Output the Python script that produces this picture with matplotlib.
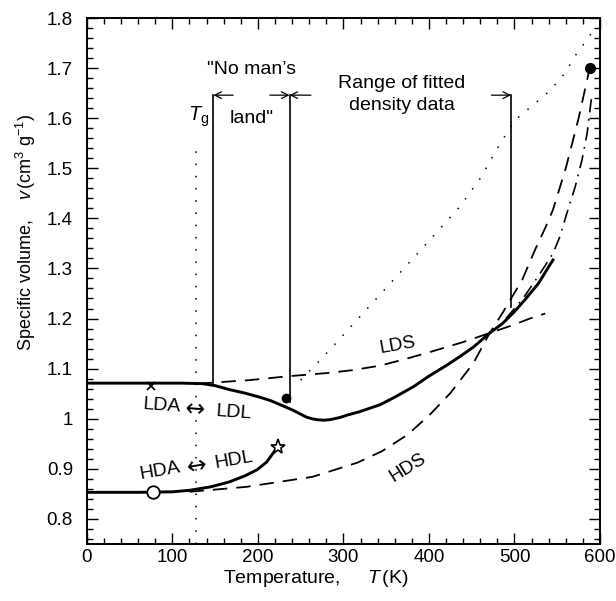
import matplotlib
matplotlib.use("Agg")
import matplotlib.pyplot as plt
from matplotlib.ticker import MultipleLocator, FormatStrFormatter

plt.rcParams['font.family'] = ['Liberation Sans', 'DejaVu Sans']
plt.rcParams['mathtext.fontset'] = 'custom'
plt.rcParams['mathtext.rm'] = 'Liberation Sans'
plt.rcParams['mathtext.it'] = 'Liberation Sans:italic'

# liquid / amorphous branches (solid)
liquid_T = [0, 60, 110, 135, 150, 167, 185, 202, 215, 226, 241, 250, 257, 263, 269, 277, 284,
            295, 304, 319, 343, 360, 382, 400, 421, 437, 452, 471, 486, 499, 512, 528, 545]
liquid_v = [1.071, 1.071, 1.071, 1.070, 1.066, 1.058, 1.051, 1.043, 1.036, 1.028, 1.017, 1.009,
            1.003, 1.000, 0.998, 0.997, 0.998, 1.002, 1.007, 1.014, 1.028, 1.043, 1.064, 1.085,
            1.107, 1.125, 1.143, 1.171, 1.190, 1.212, 1.237, 1.270, 1.317]
hda_T = [0, 60, 100, 120, 145, 167, 185, 199, 210, 216, 223]
hda_v = [0.853, 0.853, 0.854, 0.857, 0.864, 0.874, 0.886, 0.898, 0.913, 0.927, 0.944]

# spinodals (dashed)
lds_T = [130, 190, 237, 280, 311, 343, 370, 401, 440, 471, 500, 518, 536]
lds_v = [1.070, 1.077, 1.085, 1.091, 1.097, 1.106, 1.118, 1.133, 1.153, 1.171, 1.188, 1.200, 1.210]
hds_T = [120, 187, 264, 316, 345, 375, 401, 425, 452, 471, 486, 509, 524, 536, 545, 560, 575, 588]
hds_v = [0.854, 0.864, 0.884, 0.912, 0.935, 0.968, 1.008, 1.051, 1.111, 1.171, 1.211, 1.277,
         1.337, 1.381, 1.417, 1.500, 1.600, 1.700]

# extrapolated liquid (dash-dot) and dotted curve
extrap_T = [490, 510, 530, 545, 553, 563, 571, 579, 585, 590]
extrap_v = [1.200, 1.240, 1.290, 1.330, 1.363, 1.420, 1.463, 1.517, 1.570, 1.640]
dotted_T = [250, 270, 288, 320, 360, 400, 436, 460, 480, 500, 520, 541, 559, 573, 582, 594]
dotted_v = [1.077, 1.112, 1.145, 1.205, 1.280, 1.355, 1.423, 1.480, 1.540, 1.595, 1.624,
            1.654, 1.690, 1.730, 1.750, 1.780]

T_g = 128
bounds_T = [148, 237, 496]
bounds_v = [1.070, 1.034, 1.223]
arrow_v = 1.646

fig = plt.figure(figsize=(6.16, 6.01), dpi=100)
ax = fig.add_axes([0.141, 0.095, 0.833, 0.875])

ax.plot(liquid_T, liquid_v, color='black', lw=2.1)
ax.plot(hda_T, hda_v, color='black', lw=2.1)
ax.plot(lds_T, lds_v, color='black', lw=1.3, ls=(0, (8, 5)))
ax.plot(hds_T, hds_v, color='black', lw=1.3, ls=(0, (8, 5)))
ax.plot(extrap_T, extrap_v, color='black', lw=1.2, ls=(0, (8, 4, 1, 4)))
ax.plot(dotted_T, dotted_v, color='black', lw=1.1, ls=(0, (1, 7)))

# Tg and boundaries
ax.plot([T_g, T_g], [0.75, 1.54], color='black', lw=1.1, ls=(0, (1, 7)))
for t, v0 in zip(bounds_T, bounds_v):
    ax.plot([t, t], [v0, arrow_v], color='black', lw=1.2)

arrow_kw = dict(arrowstyle='->', color='black', lw=0.9, shrinkA=0, shrinkB=0,
                mutation_scale=12)
ax.annotate('', xy=(148, arrow_v), xytext=(171, arrow_v), arrowprops=arrow_kw)
ax.annotate('', xy=(237, arrow_v), xytext=(214, arrow_v), arrowprops=arrow_kw)
ax.annotate('', xy=(237, arrow_v), xytext=(262, arrow_v), arrowprops=arrow_kw)
ax.annotate('', xy=(496, arrow_v), xytext=(473, arrow_v), arrowprops=arrow_kw)

# markers
ax.plot([75], [1.066], marker='x', color='black', ms=6, mew=1.3)
ax.plot([77], [0.853], marker='o', mfc='white', mec='black', ms=9, mew=1.3)
ax.plot([223], [0.944], marker='*', mfc='white', mec='black', ms=11, mew=1.2)
ax.plot([233], [1.041], marker='o', color='black', ms=6)
ax.plot([588], [1.700], marker='o', color='black', ms=7)

# labels
ax.text(131, 1.603, r'$T_{\rm g}$', fontsize=14.5, ha='center', va='center')
ax.text(193, 1.697, '"No man\u2019s', fontsize=14, ha='center', va='center')
ax.text(193, 1.600, 'land"', fontsize=14, ha='center', va='center')
ax.text(368, 1.670, 'Range of fitted', fontsize=14, ha='center', va='center')
ax.text(369, 1.626, 'density data', fontsize=14, ha='center', va='center')

ax.text(87, 1.025, 'LDA', fontsize=14, ha='center', va='center', rotation=-4)
ax.text(126, 1.019, '\u2194', family='DejaVu Sans', fontsize=17, ha='center', va='center',
        rotation=-4)
ax.text(171, 1.012, 'LDL', fontsize=14, ha='center', va='center', rotation=-4)
ax.text(85, 0.895, 'HDA', fontsize=14, ha='center', va='center', rotation=10)
ax.text(129, 0.906, '\u2194', family='DejaVu Sans', fontsize=17, ha='center', va='center',
        rotation=10)
ax.text(172, 0.918, 'HDL', fontsize=14, ha='center', va='center', rotation=10)

ax.text(363, 1.147, 'LDS', fontsize=13.5, ha='center', va='center', rotation=10)
ax.text(375, 0.903, 'HDS', fontsize=13.5, ha='center', va='center', rotation=32)

ax.set_xlim(0, 600)
ax.set_ylim(0.75, 1.8)
ax.xaxis.set_major_locator(MultipleLocator(100))
ax.xaxis.set_minor_locator(MultipleLocator(20))
ax.yaxis.set_major_locator(MultipleLocator(0.1))
ax.yaxis.set_minor_locator(MultipleLocator(0.02))
ax.yaxis.set_major_formatter(FormatStrFormatter('%g'))
ax.tick_params(which='both', direction='in', top=True, right=True, width=1.0, labelsize=13.5)
ax.tick_params(which='major', length=8)
ax.tick_params(which='minor', length=4)
ax.tick_params(axis='x', pad=4)
ax.tick_params(axis='y', pad=10)
for s in ax.spines.values():
    s.set_linewidth(1.4)

ax.set_xlabel(r'Temperature,     $T\,$(K)', fontsize=14)
ax.set_ylabel(r'Specific volume,    $v\,$(cm$^3$ g$^{-1}$)', fontsize=13)
ax.xaxis.set_label_coords(0.446, -0.046)
ax.yaxis.set_label_coords(-0.0955, 0.593)

fig.savefig('out.png', dpi=100)
